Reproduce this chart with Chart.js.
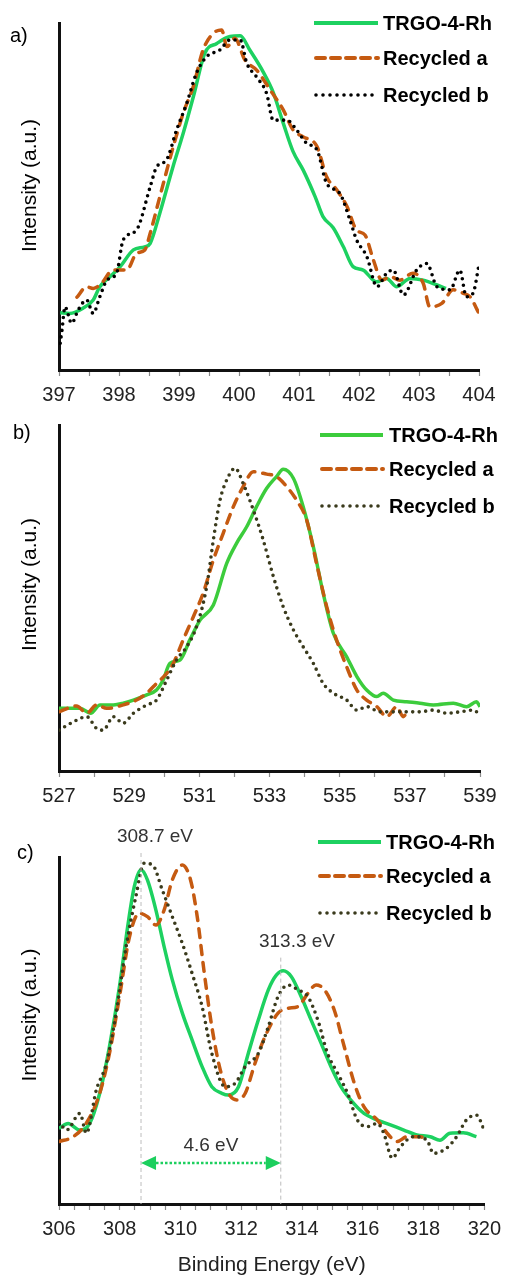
<!DOCTYPE html>
<html><head><meta charset="utf-8">
<script src="https://cdn.jsdelivr.net/npm/chart.js@4.4.1/dist/chart.umd.min.js"></script>
<style>
html,body{margin:0;padding:0;background:#fff;width:508px;height:1276px;overflow:hidden;position:relative}
.p{position:absolute;left:0;width:508px}
canvas{display:block}
</style></head><body>
<div class="p" style="top:0;height:410px"><canvas id="ca" width="508" height="410"></canvas></div>
<div class="p" style="top:405px;height:405px"><canvas id="cb" width="508" height="405"></canvas></div>
<div class="p" style="top:810px;height:466px"><canvas id="cc" width="508" height="466"></canvas></div>
<script>
// ---------- DATA ----------
const seriesNames = ['TRGO-4-Rh', 'Recycled a', 'Recycled b'];
const panelLabels = ['a)', 'b)', 'c)'];
const yTitle = 'Intensity (a.u.)';
const xTitle = 'Binding Energy (eV)';

// Panel a
const aTickLabels = [397, 398, 399, 400, 401, 402, 403, 404];
const aEnergyTRGO = [397.02,397.18,397.4,397.57,397.68,397.85,398.02,398.24,398.43,398.52,398.68,398.9,399.07,399.24,399.43,399.63,399.85,400.02,400.18,400.4,400.57,400.74,400.9,401.07,401.27,401.4,401.57,401.74,401.9,402.07,402.29,402.46,402.63,402.85,403.07,403.3,403.45];
const aTRGO = [16.5,16.3,17.8,20.2,24,26.9,29.8,34.6,35.5,36.5,45.2,58.6,68.2,78.8,91.3,94.1,96.1,96.3,92.2,86,80,71,63,57.6,49.9,44.2,41,35.5,29.8,28.8,25.4,26.4,24,26.4,25.9,24.5,23.5];
const aEnergyRecA = [397.3,397.46,397.57,397.71,397.9,398.13,398.29,398.43,398.52,398.68,398.9,399.07,399.24,399.4,399.57,399.71,399.8,399.93,400.1,400.29,400.52,400.74,400.9,401.07,401.3,401.46,401.63,401.8,401.96,402.1,402.24,402.38,402.52,402.68,402.9,403.07,403.18,403.38,403.57,403.74,403.85,404.0];
const aRecA = [21,24,23.5,25,28.8,28.8,33.6,34.6,39.4,49.9,64.1,74,81.8,92.2,97,98,93.2,95.6,89.3,86.5,80.7,74.9,69.2,67.2,64.4,55.7,51.9,47.1,40.3,38.9,31.7,25.9,26.9,25.9,27.9,25,18.2,19.2,23.1,22.1,21.1,16.3];
const aEnergyRecB = [397.02,397.05,397.1,397.21,397.32,397.46,397.57,397.68,397.8,397.96,398.07,398.29,398.52,398.63,398.79,398.96,399.13,399.29,399.46,399.68,399.85,400.02,400.13,400.29,400.46,400.57,400.8,400.96,401.13,401.3,401.46,401.68,401.85,401.96,402.13,402.3,402.46,402.57,402.74,402.96,403.13,403.3,403.52,403.68,403.79,403.9,404.0];
const aRecB = [7.7,11.5,18.2,13.5,17.3,20.2,16.3,21.1,25.9,27.9,37.5,40.3,52.8,58.6,60.5,69.2,76.9,85.5,90.3,92.2,95.1,95.1,88.4,84.5,79.7,72,72,69.2,65.3,63.4,53.8,50.9,43.2,37.5,32.7,24,27.9,28.8,21.6,28.8,30.7,24,23.1,28.8,21.1,22.1,30.3];

// Panel b
const bTickLabels = [527, 529, 531, 533, 535, 537, 539];
const bEnergyTRGO = [527.0,527.6,527.9,528.17,528.55,528.83,529.12,529.5,529.78,529.97,530.16,530.45,530.73,531.02,531.4,531.78,532.06,532.35,532.63,532.92,533.2,533.39,533.68,533.96,534.25,534.53,534.82,535.2,535.49,535.77,536.06,536.24,536.53,536.91,537.29,537.67,538.24,538.62,538.9,539.0];
const bTRGO = [18.1,18.1,16.7,19.1,19.1,19.6,20.5,22,23.4,26.3,31.1,32.1,37.9,43.6,48,60,65.8,70.6,76.4,81.7,85.1,87.2,84.6,76.4,64.8,51.4,39.8,33,27.3,23.4,21.5,22.5,20.5,20,19.6,19.1,19.6,18.6,20,18.6];
const bEnergyRecA = [527.0,527.5,527.79,528.07,528.36,528.83,529.21,529.5,529.78,530.07,530.26,530.54,530.83,531.11,531.4,531.68,531.97,532.25,532.54,532.92,533.2,533.49,533.77,534.06,534.34,534.63,534.91,535.2,535.49,535.77,536.06,536.34,536.63,536.81,536.96];
const bRecA = [17.1,18.8,16.7,19.1,18.1,19.1,20.5,22.5,25.3,28.2,31.1,37.9,44.6,51.4,61,68.7,76.4,82.2,86.5,85.8,85.1,82.2,78.3,72.5,60,47.5,37.9,30.1,23.4,20.5,18.6,15.7,18.6,15.7,18.1];
const bEnergyRecB = [527.0,527.41,527.79,528.07,528.26,528.55,528.83,529.12,529.5,529.78,530.07,530.35,530.64,530.92,531.21,531.4,531.59,531.78,532.02,532.25,532.54,532.82,533.11,533.39,533.68,533.96,534.25,534.53,534.82,535.2,535.49,535.77,536.15,536.53,536.91,537.29,537.67,538.05,538.43,538.81,539.0];
const bRecB = [11.8,14.2,15.7,12.3,11.8,15.7,13.8,16.7,19.1,20.5,26.3,32.1,35.9,41.7,53.3,66.8,78.3,84.1,87.5,83.1,75.4,66.8,56.2,47.5,40.8,35.9,31.1,25.3,22.5,20.5,17.6,18.6,17.1,17.1,17.1,17.1,17.6,16.7,17.1,17.6,16.2];

// Panel c
const cTickLabels = [306, 308, 310, 312, 314, 316, 318, 320];
const cEnergyTRGO = [306.0,306.3,306.69,307.01,307.34,307.66,307.99,308.26,308.48,308.7,308.91,309.19,309.46,309.73,310.06,310.38,310.71,311.03,311.36,311.58,311.91,312.23,312.56,312.89,313.16,313.38,313.65,313.97,314.3,314.63,314.95,315.28,315.6,316.04,316.48,316.91,317.35,317.78,318.22,318.54,318.87,319.31,319.74];
const cTRGO = [21.8,23.2,21.3,23.2,31.9,45.3,62.6,79.9,91.5,96.3,93.4,84.7,74.2,64.6,55,47.3,39.6,33.8,31.9,31.4,33.8,43.4,53,61.7,66,67.2,65.5,59.8,53,46.3,39.6,33.8,30,26.1,24.2,22.8,21.3,19.9,19.4,18.4,20.4,20.5,19.4];
const cEnergyRecA = [306.0,306.47,306.9,307.34,307.66,307.99,308.32,308.64,308.91,309.19,309.46,309.73,310.06,310.33,310.55,310.77,311.03,311.31,311.58,311.85,312.13,312.45,312.78,313.21,313.54,313.87,314.19,314.46,314.74,315.06,315.39,315.72,316.04,316.48,316.8,317.13,317.46,317.89,318.11];
const cRecA = [18,19.4,23.3,31.9,43.4,59.7,77,83.8,82.8,80.4,84.7,93.4,97.7,93.4,82.8,67.4,51.1,38.6,31.9,30,31.9,40.5,48.2,55,56.4,56.9,60.7,63.1,61.7,55.9,45.3,34.8,28,24.2,20.4,18,19.4,19.4,18.4];
const cEnergyRecB = [306.0,306.25,306.69,306.9,307.23,307.56,307.88,308.21,308.53,308.8,309.08,309.4,309.73,310.06,310.38,310.71,311.03,311.47,311.8,312.13,312.56,312.89,313.21,313.54,313.87,314.19,314.52,314.84,315.17,315.5,315.82,316.15,316.48,316.69,316.97,317.24,317.67,318.11,318.33,318.76,319.09,319.41,319.74,320.0];
const cRecB = [23.7,21.3,26.1,20.4,32.9,40.5,55,74.2,88.6,98.2,97.7,90.5,82.8,75.1,66.5,56.9,43.4,33.8,34.8,39.6,43.4,51.1,59.8,63.1,61.7,59.8,53,43.4,37.7,31.9,24.2,22.3,23.2,20.4,13.2,16.5,19.4,18.4,14.6,16.1,19.4,24.2,25.6,21.3];

// Panel c annotations
const cPeaks = [308.7, 313.3];
const cPeakLabels = ['308.7 eV', '313.3 eV'];
const cSplitLabel = '4.6 eV';

// ---------- HELPERS ----------
const FONT = '"Liberation Sans", Arial, sans-serif';
function pts(xs, ys) { return xs.map((x, i) => ({x: x, y: ys[i]})); }

function makeDatasets(e1, v1, e2, v2, e3, v3, green, dotColor) {
  return [
    {label: seriesNames[0], data: pts(e1, v1), borderColor: green, borderWidth: 3.5, order: 3},
    {label: seriesNames[1], data: pts(e2, v2), borderColor: '#C55A11', borderWidth: 3.5, borderDash: [9, 8], borderCapStyle: 'round', order: 2},
    {label: seriesNames[2], data: pts(e3, v3), borderColor: dotColor, borderWidth: 3.6, borderDash: [0, 6.5], borderCapStyle: 'round', order: 1}
  ];
}

const decorPlugin = {
  id: 'decor',
  afterDraw(chart, args, o) {
    const ctx = chart.ctx;
    ctx.save();
    // panel label
    ctx.fillStyle = '#000';
    ctx.font = '20px ' + FONT;
    ctx.textAlign = 'left';
    ctx.textBaseline = 'middle';
    ctx.fillText(o.label, o.labelX, o.labelY);
    // y title
    ctx.save();
    ctx.translate(30, o.yTitleY);
    ctx.rotate(-Math.PI / 2);
    ctx.textAlign = 'center';
    ctx.font = '21px ' + FONT;
    ctx.fillText(yTitle, 0, 0);
    ctx.restore();
    // legend
    chart.data.datasets.forEach((ds, i) => {
      const y = o.legY[i];
      ctx.save();
      ctx.strokeStyle = ds.borderColor;
      ctx.lineWidth = i === 2 ? 3.6 : 4;
      ctx.lineCap = i === 0 ? 'butt' : 'round';
      ctx.setLineDash(i === 0 ? [] : (i === 1 ? [9, 6] : [0, 7]));
      ctx.beginPath();
      ctx.moveTo(o.legX0 + (i === 0 ? 0 : 2), y);
      ctx.lineTo(o.legX1, y);
      ctx.stroke();
      ctx.restore();
      ctx.fillStyle = '#000';
      ctx.font = 'bold 20px ' + FONT;
      ctx.textAlign = 'left';
      ctx.textBaseline = 'middle';
      ctx.fillText(ds.label, o.legText, y + 1);
    });
    // annotations (panel c)
    if (o.peaks) {
      const xs = chart.scales.x, ys = chart.scales.y, area = chart.chartArea;
      const p0 = xs.getPixelForValue(o.peaks[0]);
      const p1 = xs.getPixelForValue(o.peaks[1]);
      ctx.save();
      ctx.strokeStyle = '#bdbdbd';
      ctx.lineWidth = 1;
      ctx.setLineDash([4, 3]);
      ctx.beginPath();
      ctx.moveTo(p0, area.top - 4); ctx.lineTo(p0, area.bottom);
      ctx.moveTo(p1, ys.getPixelForValue(71)); ctx.lineTo(p1, area.bottom);
      ctx.stroke();
      ctx.restore();
      ctx.fillStyle = '#333';
      ctx.font = '19px ' + FONT;
      ctx.textAlign = 'center';
      ctx.textBaseline = 'middle';
      ctx.fillText(o.peakLabels[0], 155, ys.getPixelForValue(105.8));
      ctx.fillText(o.peakLabels[1], 297, ys.getPixelForValue(75.5));
      ctx.fillText(o.split, (p0 + p1) / 2, ys.getPixelForValue(16.8));
      // arrow
      const ay = ys.getPixelForValue(11.8);
      const green = '#1ccf5e';
      ctx.save();
      ctx.strokeStyle = green;
      ctx.lineWidth = 2.5;
      ctx.setLineDash([2.5, 2]);
      ctx.beginPath();
      ctx.moveTo(p0 + 15, ay); ctx.lineTo(p1 - 15, ay);
      ctx.stroke();
      ctx.setLineDash([]);
      ctx.fillStyle = green;
      ctx.beginPath();
      ctx.moveTo(p0, ay); ctx.lineTo(p0 + 15, ay - 7); ctx.lineTo(p0 + 15, ay + 7); ctx.closePath();
      ctx.moveTo(p1, ay); ctx.lineTo(p1 - 15, ay - 7); ctx.lineTo(p1 - 15, ay + 7); ctx.closePath();
      ctx.fill();
      ctx.restore();
    }
    ctx.restore();
  }
};

function makeChart(id, datasets, xmin, xmax, step, tickLabels, pad, xHeight, decor, withXTitle) {
  return new Chart(document.getElementById(id), {
    type: 'line',
    data: {datasets: datasets},
    plugins: [decorPlugin],
    options: {
      responsive: false,
      animation: false,
      events: [],
      layout: {padding: pad},
      elements: {point: {radius: 0}, line: {cubicInterpolationMode: 'monotone', fill: false}},
      plugins: {legend: {display: false}, tooltip: {enabled: false}, decor: decor},
      scales: {
        x: {
          type: 'linear', min: xmin, max: xmax,
          afterFit: s => { s.height = xHeight; },
          border: {display: true, color: '#111', width: 3},
          grid: {display: true, drawOnChartArea: false, drawTicks: true, tickLength: 6, tickColor: '#8a8a8a', tickWidth: 1.2},
          ticks: {
            stepSize: step, autoSkip: false, maxRotation: 0, padding: 7,
            color: '#222', font: {family: FONT, size: 20},
            callback: v => tickLabels.some(t => Math.abs(t - v) < 1e-6) ? String(Math.round(v)) : ''
          },
          title: {display: !!withXTitle, text: xTitle, color: '#222', font: {family: FONT, size: 21, lineHeight: 1}, padding: {top: 0, bottom: 0}}
        },
        y: {
          type: 'linear', min: 0, max: 100,
          afterFit: s => { s.width = 59; },
          border: {display: true, color: '#111', width: 3},
          grid: {display: false},
          ticks: {display: false},
          title: {display: false}
        }
      }
    }
  });
}

makeChart('ca', makeDatasets(aEnergyTRGO, aTRGO, aEnergyRecA, aRecA, aEnergyRecB, aRecB, '#1dd160', '#000'),
  397, 404, 0.5, aTickLabels, {left: 0, right: 29, top: 23, bottom: 0}, 40,
  {label: panelLabels[0], labelX: 10, labelY: 36, yTitleY: 185.5, legX0: 314, legX1: 378, legText: 383, legY: [23, 58, 95]});

makeChart('cb', makeDatasets(bEnergyTRGO, bTRGO, bEnergyRecA, bRecA, bEnergyRecB, bRecB, '#3ccc3c', '#3a3a1c'),
  527, 539, 1, bTickLabels, {left: 0, right: 28, top: 20, bottom: 0}, 39,
  {label: panelLabels[1], labelX: 13, labelY: 28, yTitleY: 179.5, legX0: 320, legX1: 383, legText: 389, legY: [30, 64, 101]});

makeChart('cc', makeDatasets(cEnergyTRGO, cTRGO, cEnergyRecA, cRecA, cEnergyRecB, cRecB, '#1dd160', '#3a3a1c'),
  306, 320, 0.5, cTickLabels, {left: 0, right: 20, top: 47, bottom: 0}, 72,
  {label: panelLabels[2], labelX: 17, labelY: 43, yTitleY: 205, legX0: 318, legX1: 381, legText: 386, legY: [32, 66, 103],
   peaks: cPeaks, peakLabels: cPeakLabels, split: cSplitLabel}, true);
</script>
</body></html>
